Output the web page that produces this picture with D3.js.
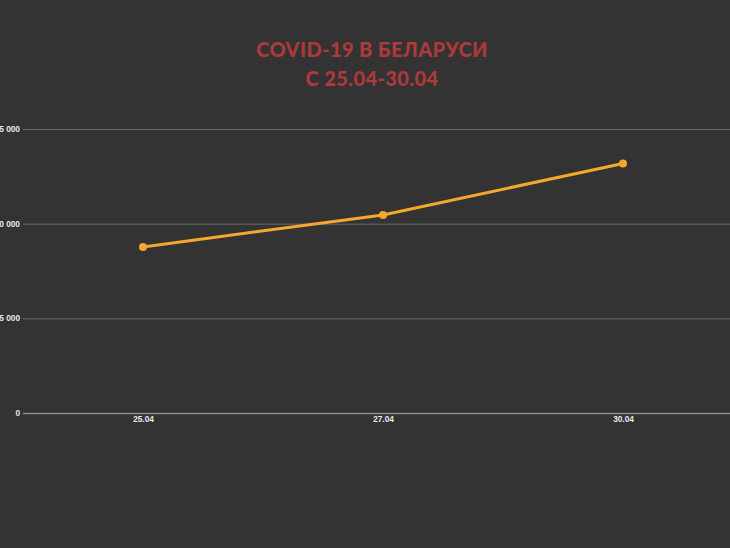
<!DOCTYPE html>
<html><head><meta charset="utf-8">
<script src="https://cdn.jsdelivr.net/npm/d3@7"></script>
<style>html,body{margin:0;padding:0;background:#333333;}svg{display:block;}</style>
</head><body>
<script>
const categories = ["25.04", "27.04", "30.04"];
const values = [8773, 10463, 13181];
const yTicks = [0, 5000, 10000, 15000];
const titleLines = ["COVID-19 В БЕЛАРУСИ", "С 25.04-30.04"];

const W = 730, H = 548;
const svg = d3.select("body").append("svg").attr("width", W).attr("height", H);
svg.append("rect").attr("width", W).attr("height", H).attr("fill", "#333333");

const x = d3.scalePoint().domain(categories).range([23, 743]).padding(0.5);
const y = d3.scaleLinear().domain([0, 15000]).range([413, 129]);

// title
svg.append("g").selectAll("text").data(titleLines).join("text")
  .attr("x", 372).attr("y", (d, i) => 57 + i * 29)
  .attr("text-anchor", "middle")
  .attr("font-family", "Lato, 'Open Sans', sans-serif")
  .attr("font-weight", "900").attr("font-size", 20)
  .attr("letter-spacing", 0.4)
  .attr("fill", "#ac3a3b")
  .text(d => d);

// y axis grid
const fmt = v => d3.format(",")(v).replace(/,/g, " ");
const yAxis = d3.axisLeft(y).tickValues(yTicks).tickSize(-(W - 23)).tickFormat(fmt).tickPadding(4);
const gy = svg.append("g").attr("transform", "translate(23,0)").call(yAxis);
gy.select(".domain").remove();
gy.selectAll(".tick line").attr("stroke", d => d === 0 ? "#8a8a8a" : "#6a6a6a").attr("stroke-width", d => d === 0 ? 1.5 : 1);
gy.selectAll(".tick text").attr("fill", "#e8e8e8").attr("font-family", "Arial, 'Liberation Sans', sans-serif")
  .attr("font-weight", "bold").attr("font-size", 8.3).attr("x", -3);

// x axis
const xAxis = d3.axisBottom(x).tickSize(0).tickPadding(3);
const gx = svg.append("g").attr("transform", "translate(0,413)").call(xAxis);
gx.select(".domain").remove();
gx.selectAll(".tick text").attr("fill", "#e8e8e8").attr("font-family", "Arial, 'Liberation Sans', sans-serif")
  .attr("font-weight", "bold").attr("font-size", 8.3);

// line
const data = categories.map((c, i) => ({c, v: values[i]}));
svg.append("path").datum(data)
  .attr("fill", "none").attr("stroke", "#f6a72d").attr("stroke-width", 3)
  .attr("d", d3.line().x(d => x(d.c)).y(d => y(d.v)));
svg.append("g").selectAll("circle").data(data).join("circle")
  .attr("cx", d => x(d.c)).attr("cy", d => y(d.v)).attr("r", 4)
  .attr("fill", "#f6a72d");
</script>
</body></html>
